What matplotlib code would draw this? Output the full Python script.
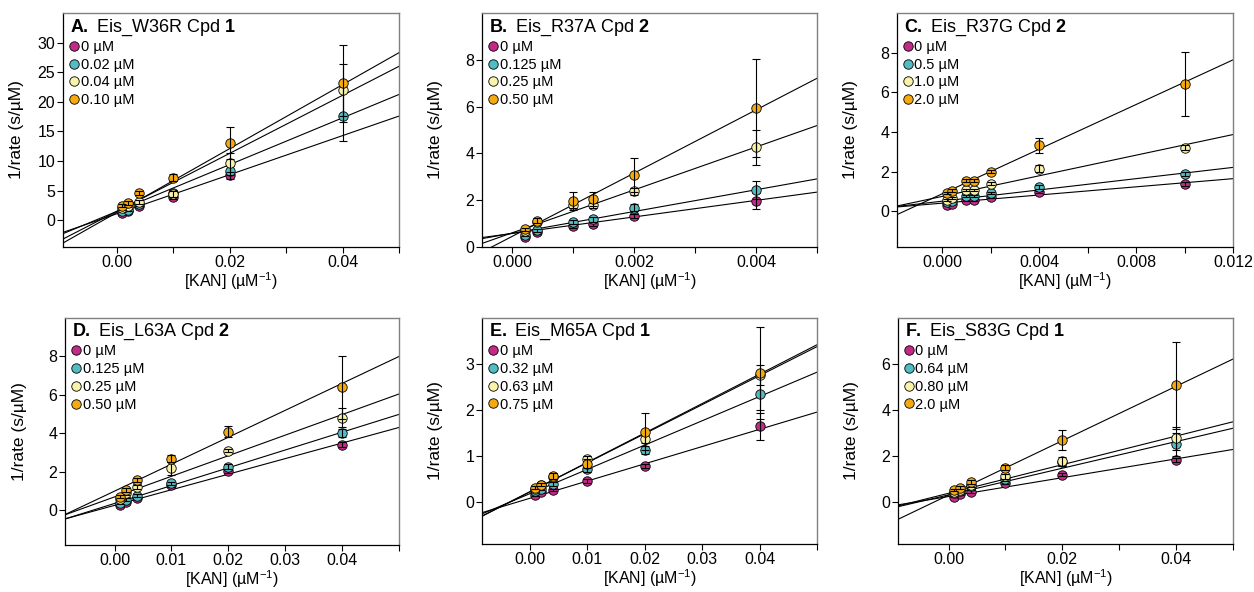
import numpy as np
import matplotlib
matplotlib.use('Agg')
import matplotlib.pyplot as plt
from matplotlib.lines import Line2D

plt.rcParams['font.family'] = ['Liberation Sans', 'DejaVu Sans']
plt.rcParams['mathtext.fontset'] = 'custom'
plt.rcParams['mathtext.rm'] = 'Liberation Sans'
plt.rcParams['mathtext.bf'] = 'Liberation Sans:bold'

nan = np.nan
colors = ['#C52A8B', '#52BCC3', '#F9F3A9', '#F6AA10']

# A. Eis_W36R Cpd 1
a_kan = [0.001, 0.002, 0.004, 0.01, 0.02, 0.04]
a_labels = ['0 µM', '0.02 µM', '0.04 µM', '0.10 µM']
a_rate = [[1.3, 1.5, 2.4, 3.9, 7.6, nan],
          [1.6, 1.7, 2.8, 4.6, 8.4, 17.6],
          [2.0, 2.4, 3.1, 4.4, 9.7, 22.0],
          [2.5, 2.9, 4.6, 7.2, 13.1, 23.1]]
a_err = [[0.15, 0.15, 0.2, 0.3, 0.6, nan],
         [0.2, 0.2, 0.3, 0.5, 0.8, 4.2],
         [0.2, 0.2, 0.3, 0.5, 1.6, 4.4],
         [0.3, 0.3, 0.4, 0.6, 2.7, 6.5]]
a_slope = [330, 395, 490, 540]
a_icept = [1.1, 1.5, 1.5, 1.3]

# B. Eis_R37A Cpd 2
b_kan = [0.0002, 0.0004, 0.001, 0.00133, 0.002, 0.004]
b_labels = ['0 µM', '0.125 µM', '0.25 µM', '0.50 µM']
b_rate = [[0.43, 0.62, 0.89, 0.98, 1.32, 1.97],
          [0.53, 0.72, 1.08, 1.18, 1.68, 2.42],
          [0.70, 1.05, 1.78, 1.78, 2.38, 4.27],
          [0.75, 1.12, 1.95, 2.05, 3.07, 5.95]]
b_err = [[0.05, 0.05, 0.06, 0.08, 0.08, 0.33],
         [0.05, 0.06, 0.08, 0.1, 0.15, 0.38],
         [0.06, 0.08, 0.12, 0.12, 0.15, 0.75],
         [0.08, 0.1, 0.38, 0.28, 0.72, 2.1]]
b_slope = [353, 464, 916, 1350]
b_icept = [0.58, 0.59, 0.61, 0.46]

# C. Eis_R37G Cpd 2
c_kan = [0.0002, 0.0004, 0.001, 0.00133, 0.002, 0.004, 0.01]
c_labels = ['0 µM', '0.5 µM', '1.0 µM', '2.0 µM']
c_rate = [[0.34, 0.39, 0.59, 0.59, 0.71, 0.98, 1.38],
          [0.45, 0.50, 0.76, 0.76, 0.93, 1.23, 1.89],
          [0.59, 0.67, 1.06, 1.09, 1.40, 2.15, 3.20],
          [0.93, 1.04, 1.55, 1.55, 1.99, 3.33, 6.43]]
c_err = [[0.04, 0.04, 0.05, 0.05, 0.05, 0.06, 0.08],
         [0.04, 0.05, 0.05, 0.05, 0.06, 0.08, 0.1],
         [0.05, 0.05, 0.06, 0.06, 0.08, 0.18, 0.12],
         [0.06, 0.06, 0.08, 0.08, 0.08, 0.37, 1.6]]
c_slope = [103, 142, 260, 563]
c_icept = [0.41, 0.51, 0.75, 0.88]

# D. Eis_L63A Cpd 2
d_kan = [0.001, 0.002, 0.004, 0.01, 0.02, 0.04]
d_labels = ['0 µM', '0.125 µM', '0.25 µM', '0.50 µM']
d_rate = [[0.30, 0.44, 0.64, 1.30, 2.03, 3.42],
          [0.40, 0.56, 0.77, 1.40, 2.27, 4.04],
          [0.58, 0.90, 1.23, 2.19, 3.11, 4.81],
          [0.72, 1.06, 1.60, 2.69, 4.09, 6.39]]
d_err = [[0.05, 0.05, 0.06, 0.08, 0.08, 0.15],
         [0.05, 0.06, 0.08, 0.1, 0.12, 0.2],
         [0.06, 0.08, 0.1, 0.35, 0.1, 0.5],
         [0.08, 0.1, 0.1, 0.2, 0.3, 1.65]]
d_slope = [81, 92.6, 107, 140]
d_icept = [0.26, 0.36, 0.70, 1.0]

# E. Eis_M65A Cpd 1
e_kan = [0.001, 0.002, 0.004, 0.01, 0.02, 0.04]
e_labels = ['0 µM', '0.32 µM', '0.63 µM', '0.75 µM']
e_rate = [[0.17, 0.22, 0.27, 0.46, 0.79, 1.65],
          [0.25, 0.30, 0.40, 0.73, 1.14, 2.36],
          [0.30, 0.37, 0.56, 0.95, 1.38, 2.77],
          [0.32, 0.39, 0.58, 0.84, 1.53, 2.80]]
e_err = [[0.02, 0.02, 0.03, 0.04, 0.05, 0.3],
         [0.02, 0.03, 0.04, 0.06, 0.08, 0.35],
         [0.03, 0.03, 0.04, 0.05, 0.08, 0.22],
         [0.03, 0.04, 0.06, 0.1, 0.4, 1.0]]
e_slope = [37.4, 52.7, 63, 63.8]
e_icept = [0.09, 0.19, 0.23, 0.23]

# F. Eis_S83G Cpd 1
f_kan = [0.001, 0.002, 0.004, 0.01, 0.02, 0.04]
f_labels = ['0 µM', '0.64 µM', '0.80 µM', '2.0 µM']
f_rate = [[0.25, 0.36, 0.47, 0.85, 1.20, 1.85],
          [0.40, 0.50, 0.70, 1.02, 1.75, 2.52],
          [0.45, 0.55, 0.75, 1.13, 1.79, 2.78],
          [0.54, 0.64, 0.89, 1.51, 2.71, 5.08]]
f_err = [[0.03, 0.04, 0.05, 0.05, 0.06, 0.08],
         [0.04, 0.04, 0.05, 0.08, 0.15, 0.5],
         [0.04, 0.05, 0.06, 0.1, 0.2, 0.5],
         [0.05, 0.06, 0.1, 0.1, 0.45, 1.88]]
f_slope = [40.8, 57.8, 62, 118]
f_icept = [0.26, 0.33, 0.40, 0.32]

panels = [
    ('A.', 'Eis_W36R', '1', a_kan, a_labels, a_rate, a_err, a_slope, a_icept,
     (-0.0095, 0.05), (-4.5, 35), np.arange(0, 0.051, 0.01), [0, 0.02, 0.04], '%.2f', np.arange(0, 31, 5)),
    ('B.', 'Eis_R37A', '2', b_kan, b_labels, b_rate, b_err, b_slope, b_icept,
     (-0.0005, 0.005), (0, 10), np.arange(0, 0.0051, 0.001), [0, 0.002, 0.004], '%.3f', np.arange(0, 9, 2)),
    ('C.', 'Eis_R37G', '2', c_kan, c_labels, c_rate, c_err, c_slope, c_icept,
     (-0.00186, 0.012), (-1.8, 10), np.arange(0, 0.0121, 0.002), [0, 0.004, 0.008, 0.012], '%.3f', np.arange(0, 9, 2)),
    ('D.', 'Eis_L63A', '2', d_kan, d_labels, d_rate, d_err, d_slope, d_icept,
     (-0.0087, 0.05), (-1.8, 10), np.arange(0, 0.051, 0.01), [0, 0.01, 0.02, 0.03, 0.04], '%.2f', np.arange(0, 9, 2)),
    ('E.', 'Eis_M65A', '1', e_kan, e_labels, e_rate, e_err, e_slope, e_icept,
     (-0.0083, 0.05), (-0.9, 4), np.arange(0, 0.051, 0.01), [0, 0.01, 0.02, 0.03, 0.04], '%.2f', np.arange(0, 4, 1)),
    ('F.', 'Eis_S83G', '1', f_kan, f_labels, f_rate, f_err, f_slope, f_icept,
     (-0.0089, 0.05), (-1.8, 8), np.arange(0, 0.051, 0.01), [0, 0.02, 0.04], '%.2f', np.arange(0, 7, 2)),
]

# axes boxes in pixels: left, top, right, bottom (figure is 1254 x 592)
W, H = 1254, 592
px_boxes = [(63, 13, 399, 247), (482, 13, 817, 247), (897, 13, 1233, 247),
            (65, 318, 399, 545), (482, 318, 817, 544), (898, 318, 1233, 544)]

fig = plt.figure(figsize=(12.54, 5.92), dpi=100)

for (l, t, r, b), p in zip(px_boxes, panels):
    (letter, name, cpd, kan, labels, rate, err, slope, icept,
     xlim, ylim, xticks, xlabeled, fmt, yticks) = p
    ax = fig.add_axes([l / W, 1 - b / H, (r - l) / W, (b - t) / H])
    ax.set_xlim(xlim)
    ax.set_ylim(ylim)

    # fitted lines across the whole x range
    xl = np.array(xlim)
    for i in range(4):
        ax.plot(xl, slope[i] * xl + icept[i], color='black', lw=0.8, zorder=2)

    handles = []
    for i in range(4):
        ax.plot(kan, rate[i], 'o', ms=6.8, mfc=colors[i], mec='black', mew=0.6,
                zorder=3 + 2 * i, clip_on=False)
        ax.errorbar(kan, rate[i], yerr=err[i], fmt='none', ecolor='black',
                    elinewidth=0.8, capsize=3, capthick=0.8, zorder=4 + 2 * i)
        handles.append(Line2D([], [], marker='o', ls='none', ms=6.8, mfc=colors[i],
                              mec='black', mew=0.6, label=labels[i]))

    ax.legend(handles=handles, loc='upper left', bbox_to_anchor=(0.0, 0.91),
              frameon=False, fontsize=10.5, handlelength=0.7, handletextpad=0.1,
              labelspacing=0.26, borderaxespad=0.2, borderpad=0.2)

    ax.text(0.022, 0.982, r'$\mathbf{%s}$ %s Cpd $\mathbf{%s}$' % (letter, name, cpd),
            transform=ax.transAxes, ha='left', va='top', fontsize=13)

    ax.set_xticks(xticks)
    ax.set_xticklabels([fmt % t if any(abs(t - v) < 1e-9 for v in xlabeled) else ''
                        for t in xticks])
    ax.set_yticks(yticks)
    ax.tick_params(direction='out', length=4.5, width=0.8, labelsize=11.5, pad=1)
    ax.set_xlabel('[KAN] (µM$^{-1}$)', fontsize=11.5, labelpad=0.5)
    ax.set_ylabel('1/rate (s/µM)', fontsize=12.5)
    ax.yaxis.set_label_coords(-0.115, 0.5)

    for s in ['left', 'bottom']:
        ax.spines[s].set_linewidth(0.9)
        ax.spines[s].set_color('black')
    for s in ['top', 'right']:
        ax.spines[s].set_linewidth(1.0)
        ax.spines[s].set_color('#808080')

fig.savefig('out.png', dpi=100)
